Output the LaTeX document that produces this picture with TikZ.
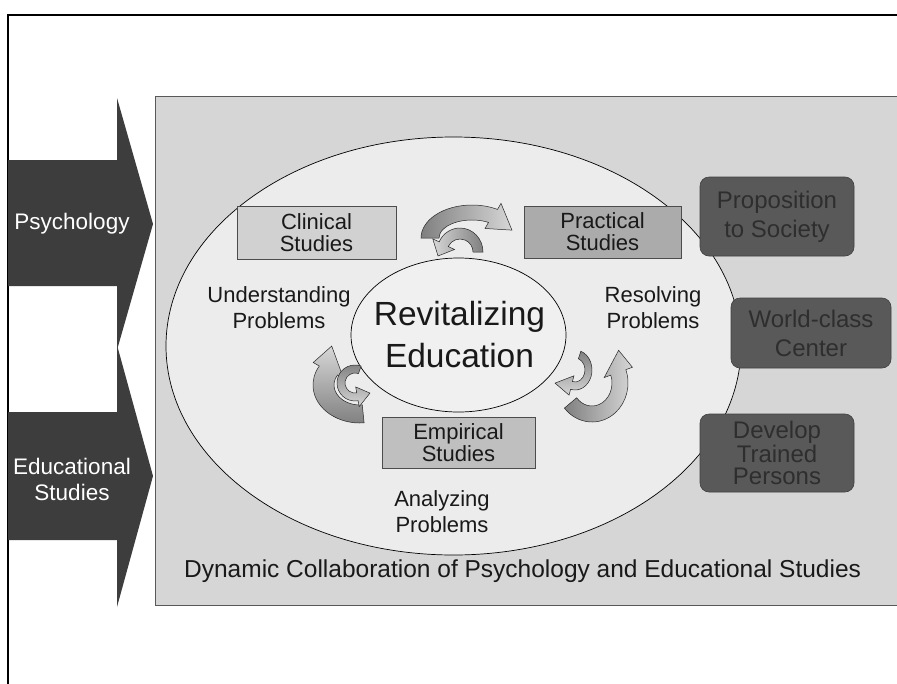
\documentclass[tikz,border=0pt]{standalone}
\usepackage{fontspec}
\setmainfont{Liberation Sans}
\newcommand\myfs[2]{\fontsize{#1}{#2}\selectfont}
\definecolor{panelc}{gray}{0.84}
\definecolor{ellc}{gray}{0.925}
\definecolor{innerc}{gray}{0.94}
\definecolor{darkarrow}{gray}{0.24}
\definecolor{boxAc}{gray}{0.82}
\definecolor{boxBc}{gray}{0.67}
\definecolor{boxCc}{gray}{0.75}
\definecolor{rboxc}{gray}{0.35}
\definecolor{rtextc}{gray}{0.18}
\definecolor{ribdark}{gray}{0.50}
\definecolor{riblight}{gray}{0.84}
\tikzset{
  rxo/.store in=\rxo, ryo/.store in=\ryo, rxi/.store in=\rxi, ryi/.store in=\ryi,
  aone/.store in=\aone, atwo/.store in=\atwo, hov/.store in=\hov,
  tipa/.store in=\tipa, tipr/.store in=\tipr,
  lbl/.style={align=center, text=black!90, inner sep=0pt},
  studybox/.style={draw=black!70, line width=0.5pt, align=center, inner sep=0pt,
    text=black!90, font=\myfs{22}{22}},
  rbox/.style={rounded corners=9pt, fill=rboxc, draw=black!75, line width=0.6pt,
    align=center, inner sep=0pt},
  ribline/.style={draw=black!85, line width=0.5pt},
}
\newcommand\ribbonarrow[2]{%
  \begin{scope}[#1]
    \pgfmathsetmacro\pax{\rxo*cos(\aone)}
    \pgfmathsetmacro\pay{\ryo*sin(\aone)}
    \pgfmathsetmacro\pbx{(\rxo+\hov)*cos(\atwo)}
    \pgfmathsetmacro\pby{(\ryo+\hov)*sin(\atwo)}
    \pgfmathsetmacro\pcx{\tipr*(\rxo+\rxi)/2*cos(\tipa)}
    \pgfmathsetmacro\pcy{\tipr*(\ryo+\ryi)/2*sin(\tipa)}
    \pgfmathsetmacro\pdx{(\rxi-\hov)*cos(\atwo)}
    \pgfmathsetmacro\pdy{(\ryi-\hov)*sin(\atwo)}
    \pgfmathsetmacro\pex{\rxi*cos(\atwo)}
    \pgfmathsetmacro\pey{\ryi*sin(\atwo)}
    \path[ribline,#2] (\pax,\pay)
      arc[start angle=\aone, end angle=\atwo, x radius=\rxo, y radius=\ryo]
      -- (\pbx,\pby) -- (\pcx,\pcy) -- (\pdx,\pdy) -- (\pex,\pey)
      arc[start angle=\atwo, end angle=\aone, x radius=\rxi, y radius=\ryi]
      -- cycle;
  \end{scope}}
\begin{document}
\begin{tikzpicture}[x=1pt,y=-1pt]
\useasboundingbox (0,0) rectangle (897,683);
\clip (0,0) rectangle (897,683);
\fill[white] (0,0) rectangle (897,683);
% outer frame
\draw[line width=1.4pt] (8,690) -- (8,15) -- (905,15);
% panel
\draw[fill=panelc, draw=black!65, line width=0.6pt] (155,96) rectangle (910,605);
% left arrows
\fill[darkarrow] (8,160) -- (117,160) -- (117,98) -- (153,224) -- (117,350)
  -- (117,286) -- (8,286) -- cycle;
\fill[darkarrow] (8,412) -- (117,412) -- (117,345) -- (153,476) -- (117,607)
  -- (117,540) -- (8,540) -- cycle;
\node[lbl, text=white, font=\myfs{22.5}{26}] (psy) at (72,224) {Psychology};
\node[lbl, text=white, font=\myfs{22.5}{26}] (edu) at (72,479) {Educational\\Studies};
% ellipses
\draw[fill=ellc, line width=0.7pt] (453.5,346) ellipse [x radius=287.5, y radius=209];
\draw[fill=innerc, line width=0.7pt] (458.5,335) ellipse [x radius=107.5, y radius=77];
% study boxes
\node[studybox, fill=boxAc, minimum width=159pt, minimum height=53pt] (clin) at (316.5,232.5) {Clinical\\Studies};
\node[studybox, fill=boxBc, minimum width=157pt, minimum height=52pt] (prac) at (602.5,232) {Practical\\Studies};
\node[studybox, fill=boxCc, minimum width=153pt, minimum height=51pt] (emp) at (458.5,442.5) {Empirical\\Studies};
% ribbon arrows
\ribbonarrow{shift={(472,238)}, rxo=51, ryo=33, rxi=33, ryi=18, aone=180, atwo=300, hov=7, tipa=342, tipr=1.0}{left color=ribdark, right color=riblight}
\ribbonarrow{shift={(460,252)}, rxo=23, ryo=24, rxi=13, ryi=13, aone=360, atwo=205, hov=7, tipa=170, tipr=1.24}{left color=riblight, right color=ribdark}
\ribbonarrow{shift={(360,385)}, rxo=47, ryo=38, rxi=26, ryi=20, aone=85, atwo=210, hov=7, tipa=240, tipr=1.55}{top color=riblight, bottom color=ribdark}
\ribbonarrow{shift={(355,383)}, rxo=18, ryo=18, rxi=10, ryi=10, aone=290, atwo=80, hov=6, tipa=34, tipr=1.29}{top color=ribdark, bottom color=riblight}
\ribbonarrow{shift={(592,383)}, rxo=36, ryo=39, rxi=20, ryi=23, aone=140, atwo=-20, hov=7, tipa=-48, tipr=1.42}{left color=ribdark, right color=riblight}
\ribbonarrow{shift={(575,370)}, rxo=17, ryo=20, rxi=10, ryi=12, aone=-70, atwo=105, hov=6, tipa=151, tipr=1.69}{top color=ribdark, bottom color=riblight}
% labels
\node[lbl, font=\myfs{33.5}{42}] (rev) at (459.5,335) {Revitalizing\\Education};
\node[lbl, font=\myfs{22}{26}] (und) at (279,308) {Understanding\\Problems};
\node[lbl, font=\myfs{22}{26}] (res) at (653,308) {Resolving\\Problems};
\node[lbl, font=\myfs{22}{26}] (ana) at (442,512) {Analyzing\\Problems};
\node[lbl, font=\myfs{24.5}{28}] (dyn) at (522.6,571) {Dynamic Collaboration of Psychology and Educational Studies};
% right boxes
\node[rbox, text=rtextc, font=\myfs{24}{29}, minimum width=154pt, minimum height=79pt] (prop) at (777,216.5) {Proposition\\to Society};
\node[rbox, text=rtextc, font=\myfs{24}{29}, minimum width=160pt, minimum height=70pt] (world) at (811,333) {World-class\\Center};
\node[rbox, text=rtextc, font=\myfs{24}{22}, minimum width=154pt, minimum height=78pt] (dev) at (777,453) {Develop\\Trained\\Persons};
\end{tikzpicture}
\end{document}
